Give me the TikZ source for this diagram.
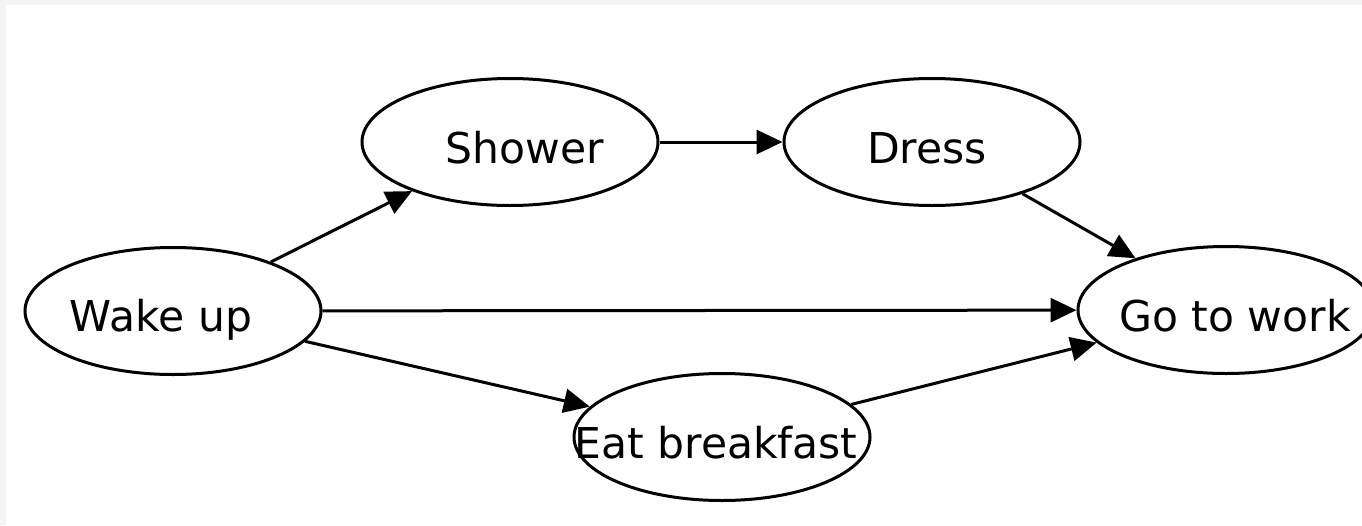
\documentclass[tikz,border=0pt]{standalone}
\usepackage{fontspec}
\setmainfont{DejaVu Sans}
\usetikzlibrary{shapes.geometric,arrows.meta}
\definecolor{framegray}{HTML}{F4F4F4}
\begin{document}
\begin{tikzpicture}[x=1pt,y=-1pt,
  task/.style={ellipse,draw=black,line width=3pt,fill=white,
    minimum width=296pt,minimum height=127pt,inner sep=0pt},
  tasktext/.style={font=\fontsize{42.5}{50}\selectfont,inner sep=0pt,anchor=base},
  flow/.style={draw=black,line width=3pt,-{Triangle[length=26pt,width=24pt]}}]
  % page and thin frame strip
  \useasboundingbox (0,0) rectangle (1362,525);
  \fill[framegray] (0,0) rectangle (1362,525);
  \fill[white] (6,5) rectangle (1362,525);
  \begin{scope}
    \clip (6,5) rectangle (1362,525);
    % activities
    \node[task] (wake)  at (173,311) {};
    \node[task] (shower) at (510,142) {};
    \node[task] (dress) at (932,142) {};
    \node[task] (work)  at (1226,310) {};
    \node[task] (eat)   at (722,437) {};
    % labels
    \node[tasktext] (twake)   at (161,331) {Wake up};
    \node[tasktext] (tshower) at (525,163) {Shower};
    \node[tasktext] (tdress)  at (927,163) {Dress};
    \node[tasktext] (twork)   at (1235,331) {Go to work};
    \node[tasktext] (teat)    at (716,458) {Eat breakfast};
    % ordering
    \draw[flow] (wake) -- (shower);
    \draw[flow] (shower) -- (dress);
    \draw[flow] (dress) -- (work);
    \draw[flow] (wake) -- (work);
    \draw[flow] (wake) -- (eat);
    \draw[flow] (eat) -- (work);
  \end{scope}
\end{tikzpicture}
\end{document}
